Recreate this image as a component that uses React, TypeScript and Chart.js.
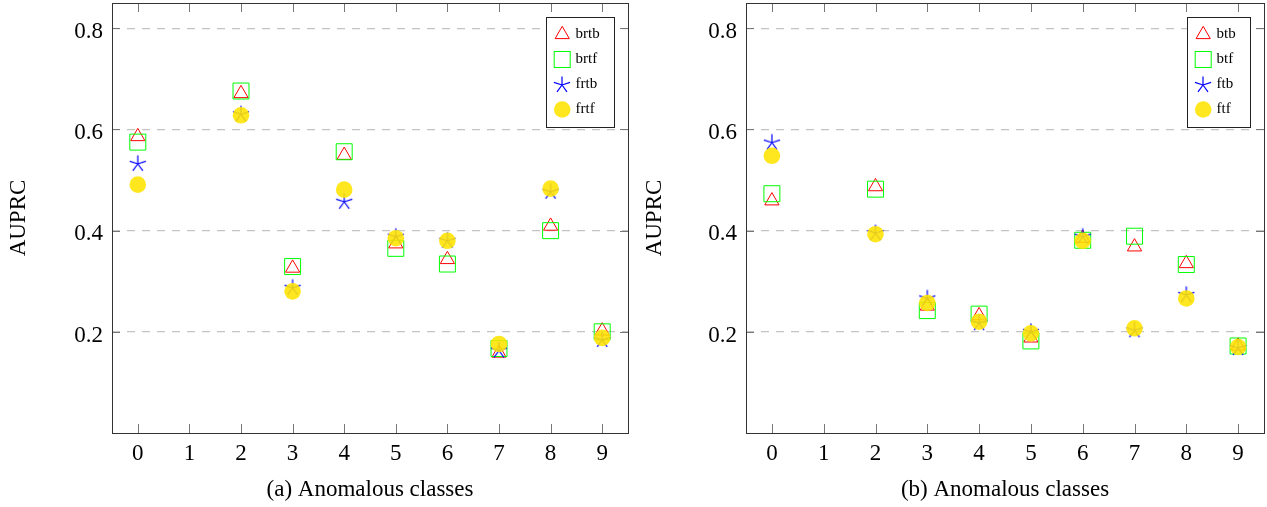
import React, { useEffect, useRef } from 'react';
import { Chart, registerables } from 'chart.js';
Chart.register(...registerables);

// ---------- data ----------
const classes = [0, 2, 3, 4, 5, 6, 7, 8, 9];
const xTickValues = [0, 1, 2, 3, 4, 5, 6, 7, 8, 9];
const yTickValues = [0.2, 0.4, 0.6, 0.8];
const xTickLabels = ['0', '1', '2', '3', '4', '5', '6', '7', '8', '9'];
const yTickLabels = ['0.2', '0.4', '0.6', '0.8'];

const brtb = [0.586, 0.671, 0.326, 0.549, 0.374, 0.343, 0.158, 0.409, 0.202];
const brtf = [0.575, 0.676, 0.329, 0.556, 0.365, 0.334, 0.167, 0.4, 0.2];
const frtb = [0.532, 0.63, 0.287, 0.457, 0.388, 0.38, 0.163, 0.477, 0.184];
const frtf = [0.491, 0.628, 0.28, 0.481, 0.385, 0.38, 0.176, 0.483, 0.188];

const btb = [0.459, 0.487, 0.251, 0.232, 0.188, 0.385, 0.368, 0.335, 0.172];
const btf = [0.473, 0.482, 0.242, 0.235, 0.182, 0.381, 0.389, 0.333, 0.172];
const ftb = [0.574, 0.395, 0.266, 0.217, 0.2, 0.388, 0.203, 0.273, 0.168];
const ftf = [0.548, 0.393, 0.257, 0.22, 0.197, 0.38, 0.207, 0.266, 0.17];

const namesA = ['brtb', 'brtf', 'frtb', 'frtf'];
const namesB = ['btb', 'btf', 'ftb', 'ftf'];
const titleA = '(a) Anomalous classes';
const titleB = '(b) Anomalous classes';
const yTitle = 'AUPRC';

// ---------- styles ----------
const FONT = "'Liberation Serif', 'Times New Roman', serif";
const RED = 'rgb(255,0,0)';
const GREEN = 'rgb(0,255,0)';
const BLUE = 'rgb(0,0,255)';
const YELLOW = 'rgba(255,228,0,0.88)';

function makeStar(): HTMLCanvasElement {
  const c = document.createElement('canvas');
  c.width = 20;
  c.height = 20;
  const ctx = c.getContext('2d')!;
  ctx.strokeStyle = BLUE;
  ctx.lineWidth = 1.2;
  ctx.beginPath();
  for (let i = 0; i < 5; i++) {
    const a = -Math.PI / 2 + (i * 2 * Math.PI) / 5;
    ctx.moveTo(10, 10);
    ctx.lineTo(10 + Math.cos(a) * 8.5, 10 + Math.sin(a) * 8.5);
  }
  ctx.stroke();
  return c;
}

function drawMarker(ctx: CanvasRenderingContext2D, kind: number, x: number, y: number, star: HTMLCanvasElement) {
  ctx.save();
  ctx.lineWidth = 1;
  if (kind === 0) {
    const r = 8.2;
    ctx.strokeStyle = RED;
    ctx.beginPath();
    for (let i = 0; i < 3; i++) {
      const a = -Math.PI / 2 + (i * 2 * Math.PI) / 3;
      const px = x + Math.cos(a) * r;
      const py = y + Math.sin(a) * r;
      if (i === 0) ctx.moveTo(px, py);
      else ctx.lineTo(px, py);
    }
    ctx.closePath();
    ctx.stroke();
  } else if (kind === 1) {
    ctx.strokeStyle = GREEN;
    ctx.strokeRect(x - 8, y - 8, 16, 16);
  } else if (kind === 2) {
    ctx.drawImage(star, Math.round(x - 10), Math.round(y - 10));
  } else {
    ctx.fillStyle = YELLOW;
    ctx.beginPath();
    ctx.arc(x, y, 8.3, 0, Math.PI * 2);
    ctx.fill();
  }
  ctx.restore();
}

interface PanelProps {
  left: number;
  width: number;
  yAxisWidth: number;
  padRight: number;
  series: number[][];
  names: string[];
  title: string;
}

function Panel({ left, width, yAxisWidth, padRight, series, names, title }: PanelProps) {
  const ref = useRef<HTMLCanvasElement | null>(null);
  useEffect(() => {
    const canvas = ref.current!;
    const star = makeStar();

    const framePlugin = {
      id: 'frame',
      afterDatasetsDraw(chart: any) {
        const { ctx, chartArea: a, scales } = chart;
        ctx.save();
        ctx.strokeStyle = '#777';
        ctx.lineWidth = 1;
        ctx.beginPath();
        for (const v of yTickValues) {
          const py = Math.round(scales.y.getPixelForValue(v)) + 0.5;
          ctx.moveTo(a.left, py);
          ctx.lineTo(a.left + 8, py);
          ctx.moveTo(a.right, py);
          ctx.lineTo(a.right - 8, py);
        }
        for (const v of xTickValues) {
          const px = Math.round(scales.x.getPixelForValue(v)) + 0.5;
          ctx.moveTo(px, a.bottom);
          ctx.lineTo(px, a.bottom - 9);
          ctx.moveTo(px, a.top);
          ctx.lineTo(px, a.top + 9);
        }
        ctx.stroke();
        ctx.strokeStyle = '#333';
        ctx.strokeRect(Math.round(a.left) + 0.5, Math.round(a.top) + 0.5, Math.round(a.right - a.left), Math.round(a.bottom - a.top));

        // tick labels
        ctx.fillStyle = '#000';
        ctx.font = `23px ${FONT}`;
        ctx.textBaseline = 'alphabetic';
        ctx.textAlign = 'right';
        yTickValues.forEach((v, i) => {
          const py = scales.y.getPixelForValue(v);
          ctx.fillText(yTickLabels[i], a.left - 9, py + 9.8);
        });
        ctx.textAlign = 'center';
        xTickValues.forEach((v, i) => {
          const px = scales.x.getPixelForValue(v);
          ctx.fillText(xTickLabels[i], px, a.bottom + 27);
        });
        ctx.restore();
      },
      afterDraw(chart: any) {
        const { ctx, chartArea: a } = chart;
        ctx.save();
        ctx.font = `15px ${FONT}`;
        let tw = 0;
        for (const n of names) tw = Math.max(tw, ctx.measureText(n).width);
        const bw = Math.round(29 + tw + 15);
        const bx = Math.round(a.right - 14 - bw) + 0.5;
        const by = Math.round(a.top + 14) + 0.5;
        const bh = 110;
        ctx.fillStyle = '#fff';
        ctx.fillRect(bx, by, bw, bh);
        ctx.strokeStyle = '#222';
        ctx.lineWidth = 1;
        ctx.strokeRect(bx, by, bw, bh);
        names.forEach((n, i) => {
          const cy = by + 17 + i * 25;
          drawMarker(ctx, i, bx + 15.7, cy, star);
          ctx.fillStyle = '#000';
          ctx.textBaseline = 'middle';
          ctx.textAlign = 'left';
          ctx.fillText(n, bx + 29, cy);
        });
        ctx.restore();
      },
    };

    const mk = (vals: number[]) => classes.map((c, i) => ({ x: c, y: vals[i] }));

    const chart = new Chart(canvas, {
      type: 'scatter',
      data: {
        datasets: [
          {
            label: names[0],
            data: mk(series[0]),
            pointStyle: 'triangle',
            pointRadius: 8.2,
            pointHoverRadius: 8.2,
            borderColor: RED,
            backgroundColor: 'rgba(0,0,0,0)',
            borderWidth: 1,
            order: 3,
          },
          {
            label: names[1],
            data: mk(series[1]),
            pointStyle: 'rect',
            pointRadius: 11.3,
            pointHoverRadius: 11.3,
            borderColor: GREEN,
            backgroundColor: 'rgba(0,0,0,0)',
            borderWidth: 1,
            order: 2,
          },
          {
            label: names[2],
            data: mk(series[2]),
            pointStyle: star,
            pointRadius: 8,
            pointHoverRadius: 8,
            borderColor: BLUE,
            backgroundColor: BLUE,
            order: 1,
          },
          {
            label: names[3],
            data: mk(series[3]),
            pointStyle: 'circle',
            pointRadius: 8.3,
            pointHoverRadius: 8.3,
            borderWidth: 0,
            borderColor: 'rgba(0,0,0,0)',
            backgroundColor: YELLOW,
            order: 0,
          },
        ],
      },
      options: {
        responsive: false,
        animation: false,
        events: [],
        layout: { autoPadding: false, padding: { left: 0, right: padRight, top: 3, bottom: 0 } },
        plugins: { legend: { display: false }, tooltip: { enabled: false } },
        scales: {
          x: {
            type: 'linear',
            min: -0.5,
            max: 9.5,
            afterBuildTicks: (s: any) => {
              s.ticks = xTickValues.map((v) => ({ value: v }));
            },
            afterFit: (s: any) => {
              s.height = 74;
            },
            grid: { display: false, drawTicks: false },
            border: { display: false },
            ticks: { display: false },
            title: {
              display: true,
              text: title,
              color: '#000',
              font: { family: FONT, size: 23 },
              padding: { top: 0, bottom: 3 },
            },
          },
          y: {
            type: 'linear',
            min: 0,
            max: 0.85,
            afterBuildTicks: (s: any) => {
              s.ticks = yTickValues.map((v) => ({ value: v }));
            },
            afterFit: (s: any) => {
              s.width = yAxisWidth;
            },
            grid: { display: true, drawTicks: false, color: '#c4c4c4', lineWidth: 1.2 },
            border: { display: false, dash: [8, 7] },
            ticks: { display: false },
            title: {
              display: true,
              text: yTitle,
              color: '#000',
              font: { family: FONT, size: 23 },
              padding: { top: 5, bottom: 0 },
            },
          },
        },
      },
      plugins: [framePlugin],
    } as any);
    return () => chart.destroy();
  }, []);
  return (
    <canvas
      ref={ref}
      width={width}
      height={507}
      style={{ position: 'absolute', left, top: 0, width, height: 507 }}
    />
  );
}

export default function App() {
  return (
    <div style={{ position: 'fixed', left: 0, top: 0, width: 1267, height: 507, background: '#fff' }}>
      <Panel left={0} width={640} yAxisWidth={112} padRight={12} series={[brtb, brtf, frtb, frtf]} names={namesA} title={titleA} />
      <Panel left={636} width={631} yAxisWidth={110} padRight={3} series={[btb, btf, ftb, ftf]} names={namesB} title={titleB} />
    </div>
  );
}
